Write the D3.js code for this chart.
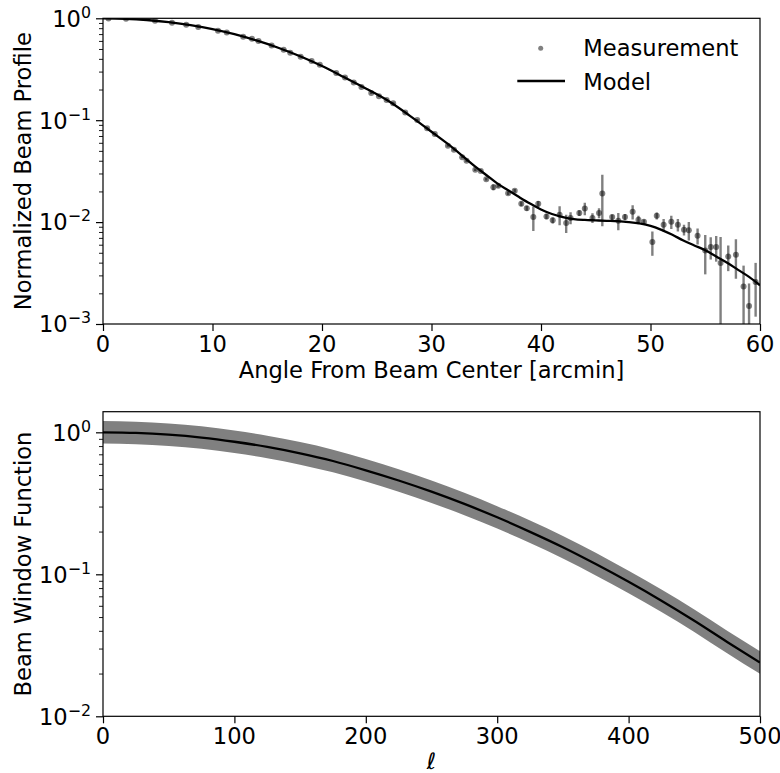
<!DOCTYPE html>
<html lang="en">
<head>
<meta charset="UTF-8">
<title>Beam profile and window function</title>
<script src="https://d3js.org/d3.v7.min.js"></script>
<style>
    body { margin: 0; background: #fff; }
    svg { display: block; font-family: "DejaVu Sans", sans-serif; }
</style>
</head>
<body>
<div id="chart"></div>
<script>
// --- top panel: measured beam profile (arcmin, normalized)
const measAngle = [0.5, 2.1, 4.75, 6.3, 7.6, 8.7, 10.5, 11.3, 12.8, 13.6, 14.2, 15.4, 16.5, 17.1, 18.05, 19.05, 19.8, 21.3,
    22.1, 22.9, 23.6, 24.5, 25.2, 25.9, 26.5, 27.6, 28.7, 29.6, 30.3, 31.5, 32.05, 32.8, 33.2, 34.0, 34.5, 35.0, 35.65, 36.1,
    37.0, 37.6, 38.2, 38.7, 39.3, 39.75, 40.5, 41.07, 41.7, 42.3, 42.7, 43.5, 44.0, 44.7, 45.3, 45.6, 46.5, 47.06, 47.67,
    48.37, 48.9, 49.4, 50.17, 50.57, 51.2, 51.9, 52.5, 53.06, 53.5, 54.3, 55.0, 55.5, 56.0, 56.4, 57.1, 57.8, 58.5, 59.0, 59.6];
const measValue = [0.998, 0.99, 0.945, 0.905, 0.862, 0.82, 0.755, 0.725, 0.66, 0.63, 0.60, 0.54, 0.49, 0.46, 0.42, 0.38, 0.35, 0.29,
    0.263, 0.235, 0.212, 0.185, 0.172, 0.158, 0.147, 0.119, 0.1007, 0.0835, 0.0734, 0.056, 0.0512, 0.0434, 0.0399, 0.0326, 0.0318, 0.0264, 0.022, 0.0227,
    0.0192, 0.0203, 0.0151, 0.0137, 0.0112, 0.0151, 0.01135, 0.0104, 0.0118, 0.0098, 0.011, 0.0123, 0.0136, 0.011, 0.0123, 0.0191, 0.0112, 0.0103, 0.0112,
    0.0126, 0.01054, 0.0101, 0.00637, 0.01153, 0.0094, 0.01007, 0.0094, 0.0084, 0.0083, 0.00734, 0.00527, 0.00569, 0.00569, 0.00396, 0.0046, 0.00478, 0.00234, 0.0015, 0.00258];
const measErr = [0.01, 0.01, 0.012, 0.012, 0.012, 0.012, 0.01, 0.01, 0.01, 0.009, 0.009, 0.008, 0.008, 0.007, 0.007, 0.006, 0.006, 0.005,
    0.005, 0.004, 0.004, 0.004, 0.003, 0.003, 0.003, 0.002, 0.002, 0.002, 0.0015, 0.0012, 0.0012, 0.001, 0.001, 0.0009, 0.0008, 0.0008, 0.0015, 0.0008,
    0.0008, 0.0008, 0.0008, 0.0008, 0.003, 0.001, 0.0007, 0.0007, 0.0025, 0.002, 0.0015, 0.0008, 0.0019, 0.0012, 0.0014, 0.010, 0.0007, 0.002, 0.0008,
    0.002, 0.001, 0.0005, 0.0017, 0.0009, 0.0013, 0.0015, 0.0013, 0.001, 0.0017, 0.0013, 0.0022, 0.0014, 0.0016, 0.0032, 0.0013, 0.002, 0.0014, 0.001, 0.0014];

const modelAngle = [0, 2, 4, 6, 8, 10, 12, 14, 16, 18, 20, 22, 24, 26, 28, 30, 32, 34, 35, 36, 37, 38, 39, 40, 41, 42, 43, 44,
    45, 46, 47, 48, 49, 50, 51, 52, 53, 54, 55, 56, 57, 58, 59, 60];
const modelValue = [1.0, 0.99, 0.962, 0.915, 0.855, 0.783, 0.698, 0.606, 0.514, 0.424, 0.34, 0.265, 0.205, 0.156, 0.111, 0.077,
    0.053, 0.035, 0.029, 0.024, 0.0205, 0.0176, 0.0152, 0.0133, 0.0120, 0.0112, 0.0107, 0.0105, 0.0104, 0.0103, 0.0102, 0.0100,
    0.0097, 0.0092, 0.0084, 0.0075, 0.0066, 0.0059, 0.0053, 0.0046, 0.0040, 0.0034, 0.0029, 0.0024];

// --- bottom panel: beam window function with uncertainty band
const ell = [0, 25, 50, 75, 100, 125, 150, 175, 200, 225, 250, 275, 300, 325, 350, 375, 400, 425, 450, 475, 500];
const windowValue = [1.0, 0.990, 0.962, 0.918, 0.858, 0.789, 0.711, 0.628, 0.540, 0.458, 0.382, 0.313, 0.252, 0.199,
    0.155, 0.118, 0.0885, 0.0652, 0.0471, 0.0334, 0.0239];
const windowUpper = [1.20, 1.188, 1.154, 1.102, 1.030, 0.947, 0.853, 0.754, 0.648, 0.550, 0.458, 0.376, 0.302, 0.239,
    0.186, 0.142, 0.106, 0.0782, 0.0565, 0.0401, 0.0287];
const windowLower = [0.833, 0.825, 0.801, 0.765, 0.715, 0.657, 0.592, 0.523, 0.450, 0.382, 0.318, 0.261, 0.210, 0.166,
    0.129, 0.098, 0.0737, 0.0543, 0.0393, 0.0278, 0.0199];

const topTicksX = [0, 10, 20, 30, 40, 50, 60];
const botTicksX = [0, 100, 200, 300, 400, 500];

const W = 780, H = 773;
const svg = d3.select("#chart").append("svg").attr("width", W).attr("height", H);

const left = 103, right = 760;
const fs = 22.6;

function minorTicks(lo, hi) {
    const out = [];
    for (let e = Math.floor(Math.log10(lo)); e <= Math.ceil(Math.log10(hi)); e++) {
        for (let m = 2; m <= 9; m++) {
            const v = m * Math.pow(10, e);
            if (v > lo && v < hi) out.push(v);
        }
    }
    return out;
}

function drawAxes(g, x, y, xTicks, yMajors, yDomain, top, bottom, yLabel) {
    // x ticks
    g.append("g").attr("transform", `translate(0,${bottom})`)
        .call(d3.axisBottom(x).tickValues(xTicks).tickSize(7).tickSizeOuter(0).tickFormat(""))
        .call(a => a.select(".domain").remove())
        .call(a => a.selectAll("line").attr("stroke", "#000").attr("stroke-width", 1.2));
    g.selectAll(null).data(xTicks).enter().append("text")
        .attr("x", d => x(d)).attr("y", bottom + 28)
        .attr("text-anchor", "middle").attr("font-size", fs).text(d => d);

    // y major + minor ticks
    g.append("g").attr("transform", `translate(${left},0)`)
        .call(d3.axisLeft(y).tickValues(yMajors).tickSize(7).tickSizeOuter(0).tickFormat(""))
        .call(a => a.select(".domain").remove())
        .call(a => a.selectAll("line").attr("stroke", "#000").attr("stroke-width", 1.2));
    g.append("g").attr("transform", `translate(${left},0)`)
        .call(d3.axisLeft(y).tickValues(minorTicks(yDomain[0], yDomain[1])).tickSize(4).tickSizeOuter(0).tickFormat(""))
        .call(a => a.select(".domain").remove())
        .call(a => a.selectAll("line").attr("stroke", "#000").attr("stroke-width", 0.9));

    const lab = g.selectAll(null).data(yMajors).enter().append("text")
        .attr("x", 91).attr("y", d => y(d) + 8.3)
        .attr("text-anchor", "end").attr("font-size", fs);
    lab.append("tspan").text("10");
    lab.append("tspan").attr("font-size", 15.8).attr("dy", -9)
        .text(d => { const e = Math.round(Math.log10(d)); return e < 0 ? "\u2212" + (-e) : String(e); });

    // frame
    g.append("rect").attr("x", left).attr("y", top)
        .attr("width", right - left).attr("height", bottom - top)
        .attr("fill", "none").attr("stroke", "#000").attr("stroke-width", 1.2);

    g.append("text").attr("transform", `translate(31,${(top + bottom) / 2}) rotate(-90)`)
        .attr("text-anchor", "middle").attr("font-size", fs).text(yLabel);
}

// ---------- top panel
const t = { top: 18.3, bottom: 324 };
const xT = d3.scaleLinear().domain([0, 60]).range([left, right]);
const yT = d3.scaleLog().domain([1e-3, 1]).range([t.bottom, t.top]);
const gT = svg.append("g");

svg.append("clipPath").attr("id", "clipT").append("rect")
    .attr("x", left).attr("y", t.top).attr("width", right - left).attr("height", t.bottom - t.top);

const meas = measAngle.map((a, i) => ({ a: a, v: measValue[i], e: measErr[i] }));
const pT = gT.append("g").attr("clip-path", "url(#clipT)");
pT.selectAll("line.err").data(meas).enter().append("line")
    .attr("x1", d => xT(d.a)).attr("x2", d => xT(d.a))
    .attr("y1", d => yT(d.v + d.e)).attr("y2", d => yT(Math.max(d.v - d.e, 1e-4)))
    .attr("stroke", "#000").attr("stroke-opacity", 0.5).attr("stroke-width", 2.4);
pT.selectAll("circle").data(meas).enter().append("circle")
    .attr("cx", d => xT(d.a)).attr("cy", d => yT(d.v)).attr("r", 3)
    .attr("fill", "#000").attr("fill-opacity", 0.5);
pT.append("path")
    .datum(modelAngle.map((a, i) => [a, modelValue[i]]))
    .attr("d", d3.line().x(d => xT(d[0])).y(d => yT(d[1])).curve(d3.curveMonotoneX))
    .attr("fill", "none").attr("stroke", "#000").attr("stroke-width", 2.3);

drawAxes(gT, xT, yT, topTicksX, [1e-3, 1e-2, 1e-1, 1], [1e-3, 1], t.top, t.bottom, "Normalized Beam Profile");
gT.append("text").attr("x", (left + right) / 2).attr("y", 378).attr("text-anchor", "middle")
    .attr("font-size", fs).text("Angle From Beam Center [arcmin]");

// legend
const lg = gT.append("g");
lg.append("circle").attr("cx", 540.7).attr("cy", 48.3).attr("r", 2.5).attr("fill", "#808080");
lg.append("text").attr("x", 583.3).attr("y", 56).attr("font-size", fs).text("Measurement");
lg.append("line").attr("x1", 517.3).attr("x2", 565).attr("y1", 81).attr("y2", 81)
    .attr("stroke", "#000").attr("stroke-width", 2.3);
lg.append("text").attr("x", 583.3).attr("y", 90).attr("font-size", fs).text("Model");

// ---------- bottom panel
const b = { top: 411.7, bottom: 716.3 };
const xB = d3.scaleLinear().domain([0, 500]).range([left, right]);
const yB = d3.scaleLog().domain([1e-2, 1.397]).range([b.bottom, b.top]);
const gB = svg.append("g");

svg.append("clipPath").attr("id", "clipB").append("rect")
    .attr("x", left).attr("y", b.top).attr("width", right - left).attr("height", b.bottom - b.top);

const win = ell.map((l, i) => ({ l: l, v: windowValue[i], lo: windowLower[i], hi: windowUpper[i] }));
const pB = gB.append("g").attr("clip-path", "url(#clipB)");
pB.append("path").datum(win)
    .attr("d", d3.area().x(d => xB(d.l)).y0(d => yB(d.lo)).y1(d => yB(d.hi)).curve(d3.curveMonotoneX))
    .attr("fill", "#808080");
pB.append("path").datum(win)
    .attr("d", d3.line().x(d => xB(d.l)).y(d => yB(d.v)).curve(d3.curveMonotoneX))
    .attr("fill", "none").attr("stroke", "#000").attr("stroke-width", 2.3);

drawAxes(gB, xB, yB, botTicksX, [1e-2, 1e-1, 1], [1e-2, 1.397], b.top, b.bottom, "Beam Window Function");
gB.append("text").attr("x", (left + right) / 2).attr("y", 769).attr("text-anchor", "middle")
    .attr("font-size", fs).attr("font-style", "italic").text("\u2113");
</script>
</body>
</html>
